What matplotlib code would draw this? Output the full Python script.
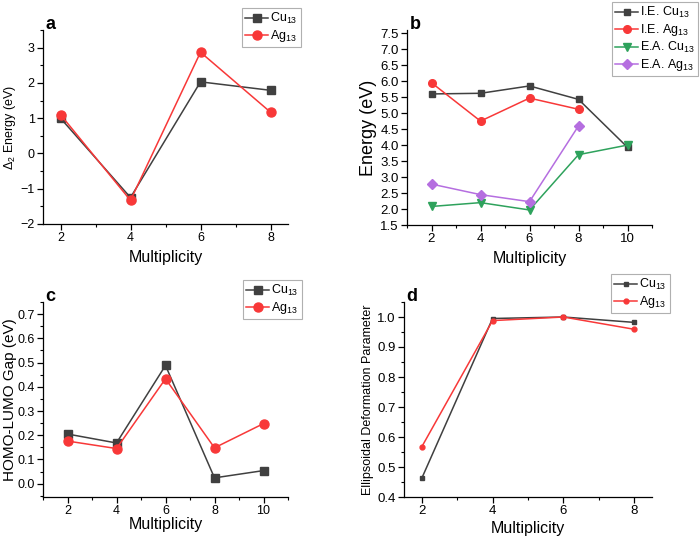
import matplotlib
matplotlib.use('Agg')
import matplotlib.pyplot as plt
from matplotlib.ticker import MultipleLocator

plt.rcParams['font.family'] = ['Liberation Sans', 'DejaVu Sans']
plt.rcParams['mathtext.fontset'] = 'custom'
plt.rcParams['mathtext.rm'] = 'Liberation Sans'

# panel a: delta2 energy
mult_a = [2, 4, 6, 8]
d2_cu = [1.00, -1.25, 2.03, 1.79]
d2_ag = [1.10, -1.33, 2.87, 1.17]

# panel b: ionisation energy / electron affinity
mult_b = [2, 4, 6, 8, 10]
ie_cu = [5.60, 5.62, 5.85, 5.43, 3.93]
ie_ag = [5.95, 4.75, 5.47, 5.12]
ea_cu = [2.08, 2.20, 1.97, 3.70, 4.00]
ea_ag = [2.78, 2.45, 2.23, 4.60]

# panel c: HOMO-LUMO gap
mult_c = [2, 4, 6, 8, 10]
gap_cu = [0.205, 0.168, 0.488, 0.024, 0.054]
gap_ag = [0.176, 0.145, 0.433, 0.148, 0.248]

# panel d: ellipsoidal deformation
mult_d = [2, 4, 6, 8]
edp_cu = [0.462, 0.995, 1.000, 0.982]
edp_ag = [0.567, 0.988, 1.000, 0.959]

gray = '#404040'
red = '#f83838'
green = '#2ea25c'
purple = '#b56ee0'

fig = plt.figure(figsize=(7, 5.38), dpi=100)
W, H = 700, 538


def make_ax(l, t, r, b):
    return fig.add_axes([l / W, 1 - b / H, (r - l) / W, (b - t) / H])


def style(ax, letter, ylabel, ylsize, ticksize, ylpad=2, xlpad=4):
    for s in ['top', 'right']:
        ax.spines[s].set_visible(False)
    for s in ['left', 'bottom']:
        ax.spines[s].set_linewidth(0.9)
    ax.tick_params(which='major', direction='out', length=4, width=0.9,
                   labelsize=ticksize, pad=2)
    ax.tick_params(which='minor', direction='out', length=2, width=0.8)
    ax.xaxis.set_major_locator(MultipleLocator(2))
    ax.xaxis.set_minor_locator(MultipleLocator(1))
    ax.set_xlabel('Multiplicity', fontsize=11.5, labelpad=xlpad)
    ax.set_ylabel(ylabel, fontsize=ylsize, labelpad=ylpad)
    ax.text(0.01, 1.03, letter, transform=ax.transAxes, fontsize=13,
            fontweight='bold', va='center', ha='left')


def legend(ax, x, y, fs=9):
    leg = ax.legend(loc='upper right', bbox_to_anchor=(x / W, 1 - y / H),
                    bbox_transform=fig.transFigure, fontsize=fs,
                    frameon=True, fancybox=False, framealpha=1,
                    edgecolor='#b0b0b0', handlelength=1.8, handletextpad=0.2,
                    borderpad=0.25, labelspacing=0.15, borderaxespad=0)
    leg.get_frame().set_linewidth(0.8)


# a
ax = make_ax(43, 30, 288, 224)
ax.plot(mult_a, d2_cu, color=gray, marker='s', ms=5.5, lw=1.1, label=r'Cu$_{13}$')
ax.plot(mult_a, d2_ag, color=red, marker='o', ms=6.5, lw=1.1, label=r'Ag$_{13}$')
ax.set_xlim(1.5, 8.5)
ax.set_ylim(-2, 3.5)
ax.yaxis.set_major_locator(MultipleLocator(1))
ax.yaxis.set_minor_locator(MultipleLocator(0.5))
style(ax, 'a', r'$\Delta_2$ Energy (eV)', 9, 9)
legend(ax, 301, 8)

# b
ax = make_ax(407, 30, 652, 225)
ax.plot(mult_b, ie_cu, color=gray, marker='s', ms=5, lw=1.1, label=r'I.E. Cu$_{13}$')
ax.plot(mult_b[:4], ie_ag, color=red, marker='o', ms=5.5, lw=1.1, label=r'I.E. Ag$_{13}$')
ax.plot(mult_b, ea_cu, color=green, marker='v', ms=6, lw=1.1, label=r'E.A. Cu$_{13}$')
ax.plot(mult_b[:4], ea_ag, color=purple, marker='D', ms=5, lw=1.1, label=r'E.A. Ag$_{13}$')
ax.set_xlim(1, 11)
ax.set_ylim(1.5, 7.6)
ax.yaxis.set_major_locator(MultipleLocator(0.5))
style(ax, 'b', 'Energy (eV)', 13, 9.5)
legend(ax, 698, 2)

# c
ax = make_ax(43, 302, 288, 497)
ax.plot(mult_c, gap_cu, color=gray, marker='s', ms=5.5, lw=1.1, label=r'Cu$_{13}$')
ax.plot(mult_c, gap_ag, color=red, marker='o', ms=6.5, lw=1.1, label=r'Ag$_{13}$')
ax.set_xlim(1, 11)
ax.set_ylim(-0.055, 0.75)
ax.yaxis.set_major_locator(MultipleLocator(0.1))
ax.yaxis.set_minor_locator(MultipleLocator(0.05))
style(ax, 'c', 'HOMO-LUMO Gap (eV)', 11, 9, ylpad=0, xlpad=0)
legend(ax, 302, 280)

# d
ax = make_ax(404, 302, 652, 497)
ax.plot(mult_d, edp_cu, color=gray, marker='s', ms=3, lw=1.1, label=r'Cu$_{13}$')
ax.plot(mult_d, edp_ag, color=red, marker='o', ms=3.5, lw=1.1, label=r'Ag$_{13}$')
ax.set_xlim(1.5, 8.5)
ax.set_ylim(0.4, 1.05)
ax.yaxis.set_major_locator(MultipleLocator(0.1))
ax.yaxis.set_minor_locator(MultipleLocator(0.05))
style(ax, 'd', 'Ellipsoidal Deformation Parameter', 9, 9.5, xlpad=3)
legend(ax, 670, 274)

fig.savefig('out.png', dpi=100)
